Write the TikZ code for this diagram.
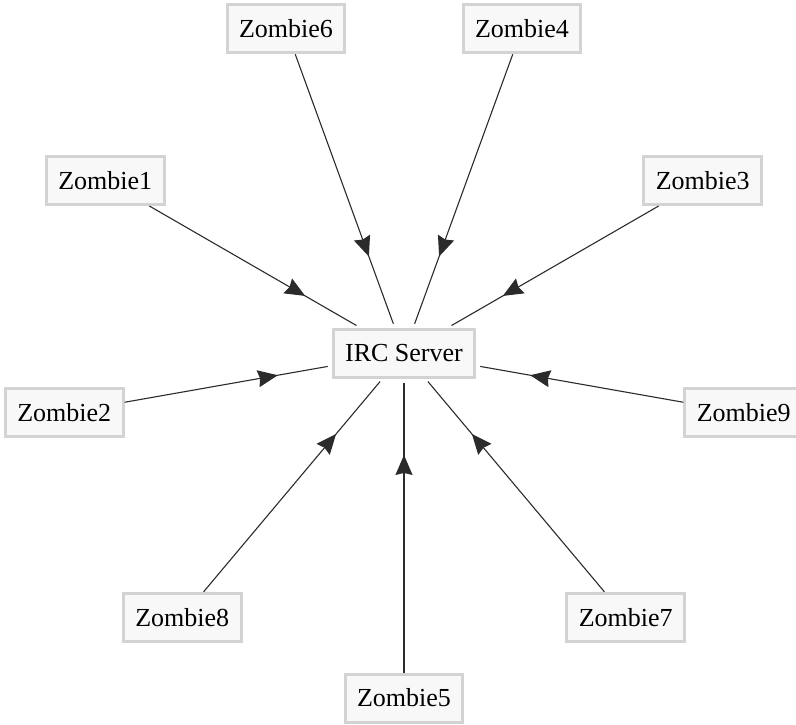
\documentclass[tikz,border=0pt]{standalone}
\usepackage{fontspec}
\setmainfont{Liberation Serif}
\usetikzlibrary{arrows.meta,decorations.markings}
\definecolor{boxfill}{HTML}{F8F8F8}
\definecolor{boxline}{HTML}{D3D3D3}
\definecolor{edgecol}{HTML}{2B2B2B}

\begin{document}
\begin{tikzpicture}[x=0.5pt, y=0.5pt,
    hostbox/.style={draw=boxline, line width=1.5pt, fill=boxfill, font=\fontsize{13}{15}\selectfont, inner xsep=6pt, minimum height=24pt},
    botlink/.style={color=edgecol, line width=0.55pt, shorten >=2pt, postaction={decorate},
        decoration={markings, mark=at position 0.74 with {\arrow{Stealth[length=10pt,width=8.5pt,inset=1pt]}}}}]
    \useasboundingbox (-404,-371) rectangle (392,353);

    % Central server
    \node[hostbox] (server) at (0,0) {IRC Server};

    % Zombies on a ring, each pointing at the server
    \foreach \name/\ang in {Zombie5/-90, Zombie7/-50, Zombie9/-10, Zombie3/30, Zombie4/70,
                            Zombie6/110, Zombie1/150, Zombie2/190, Zombie8/230} {
        \node[hostbox] (\name) at (\ang:345) {\name};
        \draw[botlink] (\name) -- (server);
    }
\end{tikzpicture}
\end{document}
